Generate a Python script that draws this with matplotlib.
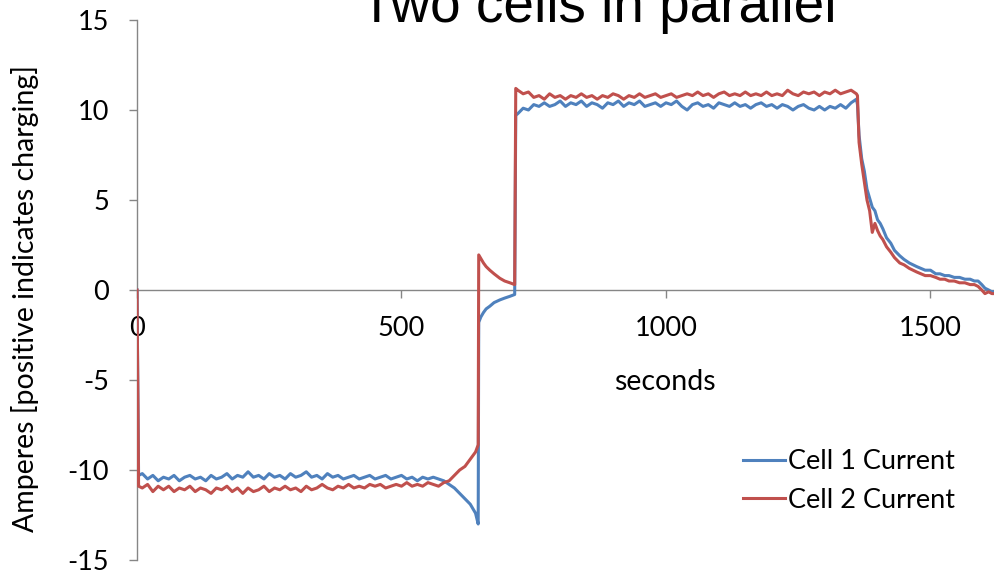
import numpy as np
import matplotlib
matplotlib.use('Agg')
from matplotlib import pyplot as plt

plt.rcParams['font.family'] = ['Lato', 'DejaVu Sans']
plt.rcParams['axes.unicode_minus'] = False

# -- data (seconds, amperes) --
# discharge phase
t_dis = [0, 3] + list(range(10, 650, 10)) + [645]
cell1_dis = [0.0, -10.3,
             -10.2, -10.5, -10.3, -10.6, -10.4, -10.5, -10.3, -10.6, -10.4, -10.3,
             -10.5, -10.4, -10.6, -10.3, -10.5, -10.4, -10.2, -10.5, -10.3, -10.4,
             -10.1, -10.4, -10.3, -10.5, -10.2, -10.4, -10.3, -10.5, -10.2, -10.4,
             -10.3, -10.1, -10.4, -10.3, -10.5, -10.2, -10.4, -10.3, -10.5, -10.4,
             -10.3, -10.5, -10.4, -10.3, -10.5, -10.4, -10.3, -10.5, -10.4, -10.3,
             -10.5, -10.4, -10.6, -10.4, -10.5, -10.4, -10.5, -10.6, -10.8, -11.0,
             -11.3, -11.6, -11.9, -12.4,
             -13.0]
cell2_dis = [0.0, -10.9,
             -11.0, -10.8, -11.2, -10.9, -11.1, -10.9, -11.2, -11.0, -11.1, -10.9,
             -11.2, -11.0, -11.1, -11.3, -11.0, -11.1, -10.9, -11.2, -11.0, -11.3,
             -11.0, -11.2, -11.1, -10.9, -11.2, -11.0, -11.1, -10.9, -11.1, -11.0,
             -11.2, -10.9, -11.1, -11.0, -10.8, -11.0, -11.1, -10.9, -11.0, -10.8,
             -11.0, -10.9, -11.0, -10.8, -10.9, -10.8, -11.0, -10.9, -10.8, -10.9,
             -10.7, -10.9, -10.8, -10.9, -10.7, -10.8, -10.9, -10.7, -10.6, -10.3,
             -10.0, -9.8, -9.4, -9.0,
             -8.6]

# rest phase after the switch
t_rest = [646, 650, 655, 660, 667, 675, 686, 695, 705, 714]
cell1_rest = [-1.8, -1.5, -1.25, -1.05, -0.9, -0.7, -0.55, -0.45, -0.35, -0.25]
cell2_rest = [1.95, 1.75, 1.5, 1.3, 1.1, 0.9, 0.65, 0.5, 0.4, 0.3]

# charge phase
t_chg = [716] + list(range(720, 1370, 10))
cell1_chg = [9.7,
             9.8, 10.1, 10.0, 10.3, 10.2, 10.4, 10.2, 10.3, 10.5, 10.2,
             10.4, 10.3, 10.5, 10.2, 10.4, 10.3, 10.1, 10.4, 10.3, 10.5,
             10.2, 10.4, 10.3, 10.5, 10.2, 10.3, 10.4, 10.2, 10.4, 10.3,
             10.5, 10.2, 10.0, 10.3, 10.4, 10.2, 10.3, 10.1, 10.4, 10.3,
             10.2, 10.4, 10.2, 10.3, 10.1, 10.3, 10.4, 10.2, 10.3, 10.1,
             10.3, 10.2, 10.0, 10.2, 10.3, 10.1, 10.0, 10.2, 10.0, 10.2,
             10.1, 10.3, 10.1, 10.4, 10.6]
cell2_chg = [11.2,
             11.1, 10.9, 11.0, 10.7, 10.8, 10.6, 10.9, 10.7, 10.8, 10.6,
             10.8, 10.7, 10.9, 10.7, 10.8, 10.6, 10.8, 10.7, 10.9, 10.8,
             10.6, 10.8, 10.7, 10.9, 10.7, 10.8, 10.9, 10.7, 10.8, 10.9,
             10.7, 10.8, 10.9, 10.8, 11.0, 10.8, 10.9, 10.7, 10.9, 11.0,
             10.8, 10.9, 10.8, 11.0, 10.8, 10.9, 10.8, 11.0, 10.8, 10.9,
             10.8, 11.1, 10.9, 10.8, 11.0, 10.9, 11.0, 10.8, 11.0, 10.9,
             11.1, 10.9, 11.0, 11.1, 10.9]

# taper at the end
t_tap = [1362, 1365, 1370, 1375, 1380, 1385, 1390, 1395, 1400, 1405, 1410, 1417,
         1425, 1432, 1442, 1450, 1460, 1474, 1482, 1490, 1500, 1510, 1518, 1527,
         1535, 1545, 1555, 1565, 1575, 1583, 1590, 1597, 1603, 1610, 1616, 1622]
cell1_tap = [10.3, 8.6, 7.3, 6.6, 5.6, 5.1, 4.6, 4.4, 3.9, 3.7, 3.4, 2.9,
             2.6, 2.2, 1.9, 1.7, 1.5, 1.3, 1.2, 1.1, 1.1, 0.9, 0.9, 0.8,
             0.8, 0.7, 0.7, 0.6, 0.6, 0.5, 0.5, 0.3, 0.1, 0.0, -0.1, -0.1]
cell2_tap = [10.8, 8.2, 7.0, 6.0, 5.0, 4.4, 3.2, 3.7, 3.3, 3.0, 2.8, 2.4,
             2.1, 1.8, 1.5, 1.4, 1.2, 1.0, 0.9, 0.8, 0.8, 0.7, 0.6, 0.6,
             0.5, 0.5, 0.4, 0.4, 0.3, 0.3, 0.2, 0.0, -0.2, -0.1, -0.2, -0.2]

series_names = ['Cell 1 Current', 'Cell 2 Current']
colours = ['#4F81BD', '#C0504D']
y_ticks = [-15, -10, -5, 0, 5, 10, 15]
x_ticks = [0, 500, 1000, 1500]

t_all = np.array(t_dis + t_rest + t_chg + t_tap)
cell1 = np.array(cell1_dis + cell1_rest + cell1_chg + cell1_tap)
cell2 = np.array(cell2_dis + cell2_rest + cell2_chg + cell2_tap)

# -- figure --
fig = plt.figure(figsize=(9.95, 5.73), dpi=100)
ax = fig.add_axes([137 / 995, 13 / 573, 858 / 995, 540 / 573])

ax.plot(t_all, cell1, color=colours[0], lw=2.2, label=series_names[0])
ax.plot(t_all, cell2, color=colours[1], lw=2.2, label=series_names[1])

ax.set_xlim(0, 1622)
ax.set_ylim(-15, 15)
ax.set_xticks(x_ticks)
ax.set_yticks(y_ticks)

for s in ['top', 'right']:
    ax.spines[s].set_visible(False)
ax.spines['bottom'].set_position(('data', 0))
ax.spines['left'].set_position(('data', 0))
for s in ['bottom', 'left']:
    ax.spines[s].set_color('#868686')
    ax.spines[s].set_linewidth(1.0)
    ax.spines[s].set_zorder(0.5)

ax.tick_params(axis='x', direction='out', length=6, width=1.0, color='#868686',
               labelsize=19.5, pad=13)
ax.tick_params(axis='y', direction='out', length=6, width=1.0, color='#868686',
               labelsize=19.5, pad=14)

ax.set_xlabel('seconds', fontsize=20.5)
ax.xaxis.set_label_coords(0.615, 0.33)
ax.xaxis.label.set_va('center')
ax.set_ylabel('Amperes [positive indicates charging]', fontsize=20.5)
ax.yaxis.set_label_coords(-0.1305, 0.485)
ax.yaxis.label.set_va('center')

ax.legend(loc='center left', bbox_to_anchor=(743 / 995, 1 - 481 / 573),
          bbox_transform=fig.transFigure, frameon=False, fontsize=19.5,
          handlelength=1.55, handletextpad=0.1, borderpad=0, borderaxespad=0,
          labelspacing=0.5)

fig.text(360 / 995, 1 - 22 / 573, 'Two cells in parallel', fontsize=39.5,
         family=['Liberation Sans', 'DejaVu Sans'], ha='left', va='baseline')

plt.savefig('out.png', dpi=100)
plt.close()
